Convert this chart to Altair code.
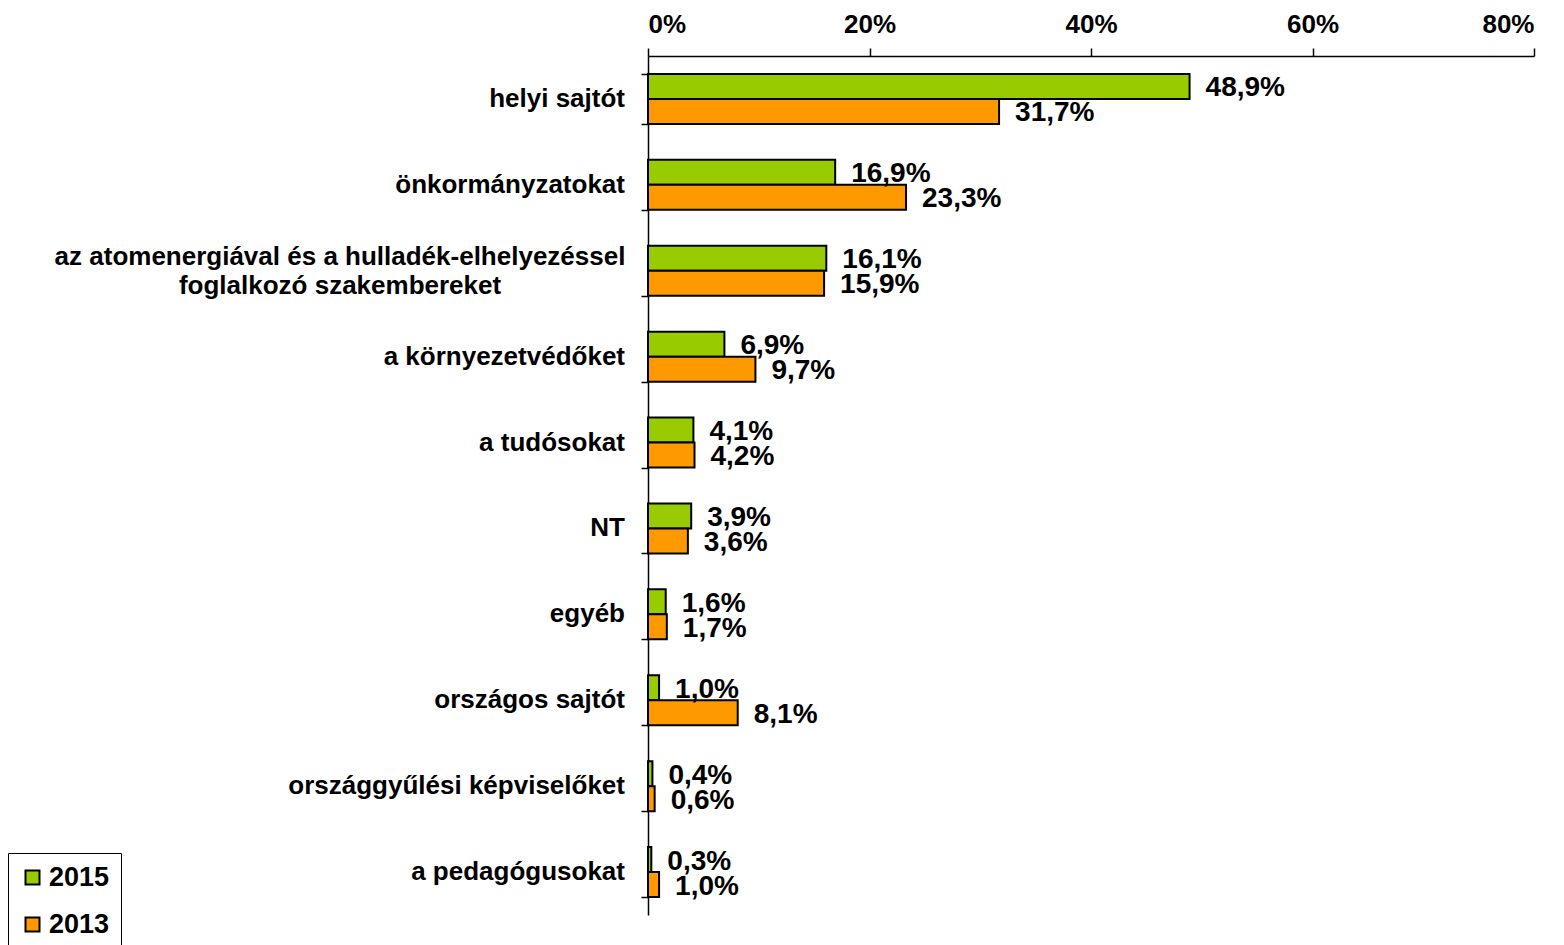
import altair as alt
import pandas as pd

categories = [
    "helyi sajtót",
    "önkormányzatokat",
    "az atomenergiával és a hulladék-elhelyezéssel\nfoglalkozó szakembereket",
    "a környezetvédőket",
    "a tudósokat",
    "NT",
    "egyéb",
    "országos sajtót",
    "országgyűlési képviselőket",
    "a pedagógusokat",
]
years = ["2015", "2013"]
values_2015 = [48.9, 16.9, 16.1, 6.9, 4.1, 3.9, 1.6, 1.0, 0.4, 0.3]
values_2013 = [31.7, 23.3, 15.9, 9.7, 4.2, 3.6, 1.7, 8.1, 0.6, 1.0]
x_ticks = [0, 20, 40, 60, 80]
colors = ["#99CC00", "#FF9900"]

rows = []
for c, a, b in zip(categories, values_2015, values_2013):
    for y, v in (("2015", a), ("2013", b)):
        rows.append({"cat": c, "year": y, "val": v,
                     "lab": f"{v:.1f}".replace(".", ",") + "%"})
df = pd.DataFrame(rows)
cat_df = pd.DataFrame({"cat": categories})

FONT = "Liberation Sans"

y_enc = alt.Y("cat:N", sort=categories,
              scale=alt.Scale(paddingInner=0.418, paddingOuter=0.209),
              axis=alt.Axis(labels=False, title=None, grid=False,
                            domainColor="black", domainWidth=1.5,
                            tickColor="black", tickWidth=1.5,
                            tickBand="extent", tickSize=7))
yoff_enc = alt.YOffset("year:N", sort=years,
                       scale=alt.Scale(paddingInner=0, paddingOuter=0))
x_enc = alt.X("val:Q", scale=alt.Scale(domain=[0, 80], nice=False),
              axis=alt.Axis(orient="top", values=x_ticks, title=None,
                            labelExpr="datum.value + '%'", grid=False,
                            domainColor="black", domainWidth=1.5,
                            tickColor="black", tickWidth=1.5, tickSize=8,
                            labelFont=FONT, labelFontSize=26,
                            labelFontWeight="bold", labelColor="black",
                            labelPadding=11))

bars = alt.Chart(df).mark_bar(stroke="black", strokeWidth=2).encode(
    y=y_enc, yOffset=yoff_enc, x=x_enc,
    color=alt.Color("year:N", sort=years,
                    scale=alt.Scale(domain=years, range=colors),
                    legend=alt.Legend(
                        title=None, orient="none", legendX=-640, legendY=797,
                        symbolType="square", symbolSize=196,
                        symbolStrokeColor="black", symbolStrokeWidth=2,
                        labelFont=FONT, labelFontSize=27,
                        labelFontWeight="bold", labelColor="black",
                        labelOffset=3, rowPadding=19, padding=11,
                        strokeColor="black", fillColor="white")),
)

value_labels = alt.Chart(df).mark_text(
    align="left", baseline="middle", dx=16, dy=2,
    font=FONT, fontSize=28, fontWeight="bold", color="black",
).encode(y=alt.Y("cat:N", sort=categories), yOffset=yoff_enc,
         x=alt.X("val:Q"), text="lab:N")

cat_labels = alt.Chart(cat_df).transform_filter(
    alt.datum.cat != categories[2]
).mark_text(
    align="right", baseline="middle", font=FONT, fontSize=26,
    fontWeight="bold", color="black",
).encode(y=alt.Y("cat:N", sort=categories), x=alt.value(-23), text="cat:N")

cat_label_wrap = alt.Chart(cat_df).transform_filter(
    alt.datum.cat == categories[2]
).mark_text(
    align="center", baseline="middle", font=FONT, fontSize=26,
    fontWeight="bold", color="black", lineBreak="\n", lineHeight=29,
    dy=-14,
).encode(y=alt.Y("cat:N", sort=categories), x=alt.value(-308), text="cat:N")

chart = alt.layer(bars, value_labels, cat_labels, cat_label_wrap).properties(
    width=886, height=859,
    autosize=alt.AutoSizeParams(type="none"),
    padding={"left": 640, "top": 48, "right": 22, "bottom": 30},
).configure(background="white").configure_view(stroke=None, strokeWidth=0)

chart.save("out.html", embed_options={"renderer": "svg", "actions": False})
